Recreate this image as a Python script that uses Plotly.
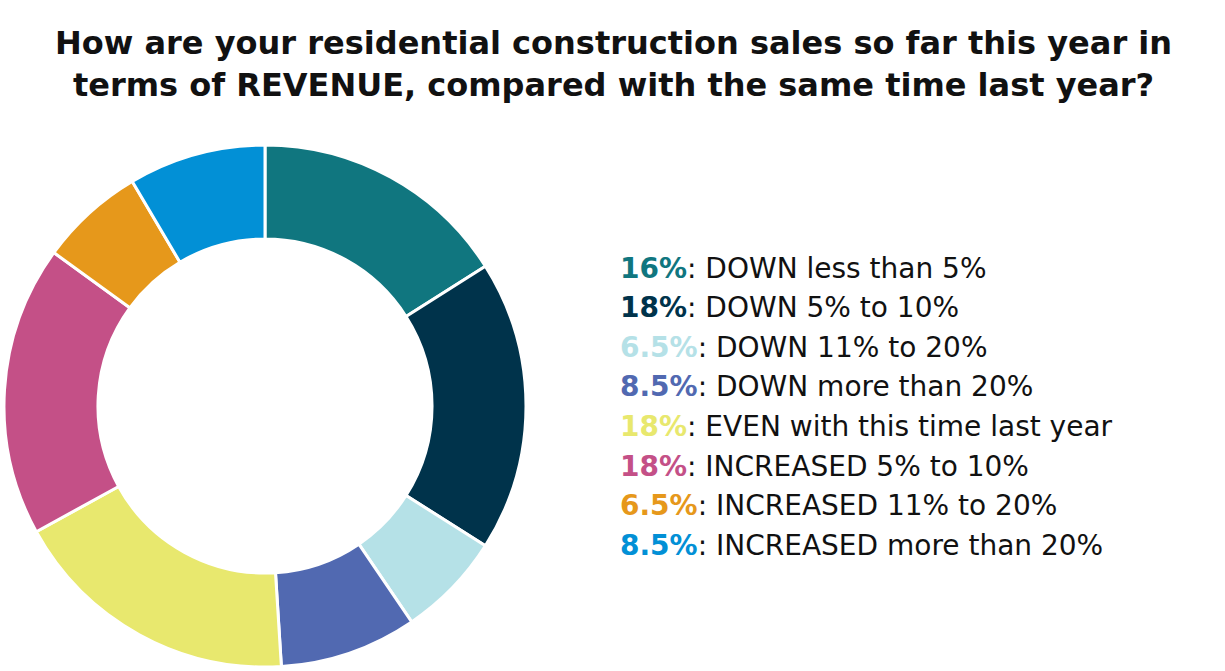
import plotly.graph_objects as go

categories = [
    "DOWN less than 5%",
    "DOWN 5% to 10%",
    "DOWN 11% to 20%",
    "DOWN more than 20%",
    "EVEN with this time last year",
    "INCREASED 5% to 10%",
    "INCREASED 11% to 20%",
    "INCREASED more than 20%",
]
values = [16, 18, 6.5, 8.5, 18, 18, 6.5, 8.5]
value_labels = ["16%", "18%", "6.5%", "8.5%", "18%", "18%", "6.5%", "8.5%"]
colors = ["#10767F", "#00334B", "#B5E1E7", "#5169B1",
          "#E8E86E", "#C45087", "#E6981B", "#0290D6"]

title_text = ("How are your residential construction sales so far this year in<br>"
              "terms of REVENUE, compared with the same time last year?")

W, H = 1225, 671
fig = go.Figure()
fig.add_trace(go.Pie(
    labels=categories,
    values=values,
    sort=False,
    direction="clockwise",
    rotation=0,
    hole=0.64,
    marker=dict(colors=colors, line=dict(color="white", width=3)),
    textinfo="none",
    hoverinfo="label+value",
    showlegend=False,
    domain=dict(x=[3 / W, 527 / W], y=[1 - 667 / H, 1 - 145 / H]),
))

annotations = [dict(
    text="<b>" + title_text + "</b>",
    x=613 / W, y=1 - 22 / H, xref="paper", yref="paper",
    xanchor="center", yanchor="top", showarrow=False,
    font=dict(family="DejaVu Sans", size=32, color="#111111"),
    align="center",
)]

y0, dy = 268, 39.6
for i, (lab, val, col) in enumerate(zip(categories, value_labels, colors)):
    annotations.append(dict(
        text=f"<b><span style='color:{col}'>{val}</span></b>: {lab}",
        x=618 / W, y=1 - (y0 + i * dy) / H, xref="paper", yref="paper",
        xanchor="left", yanchor="middle", showarrow=False,
        font=dict(family="DejaVu Sans", size=28, color="#111111"),
        align="left",
    ))

fig.update_layout(
    width=W, height=H,
    margin=dict(l=0, r=0, t=0, b=0),
    paper_bgcolor="white",
    plot_bgcolor="white",
    annotations=annotations,
)

fig.write_html("out.html", config={"displayModeBar": False},
               post_script="document.body.style.margin='0';")
